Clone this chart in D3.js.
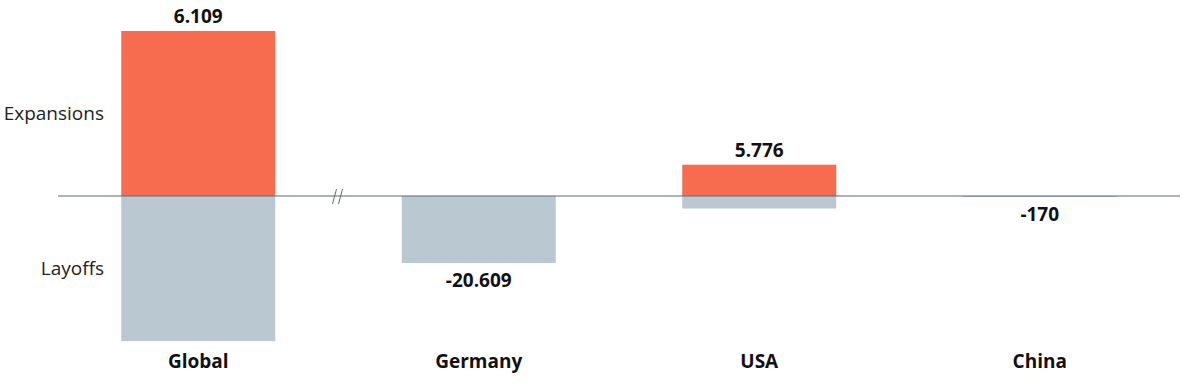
<!DOCTYPE html>
<html>
<head>
<meta charset="utf-8">
<script src="https://cdn.jsdelivr.net/npm/d3@7"></script>
<style>
  body { margin: 0; background: #fff; }
  svg { display: block; font-family: "Open Sans", "Noto Sans", sans-serif; }
</style>
</head>
<body>
<svg id="chart" width="1188" height="389"></svg>
<script>
// data (thousands separated with "." as in the original)
const categories = ["Global", "Germany", "USA", "China"];
const expansions = [50770, 0, 9630, 0];
const layoffs = [44661, 20609, 3854, 170];
const netValues = [6109, -20609, 5776, -170];
const rowLabels = ["Expansions", "Layoffs"];

const baseY = 196;
const barW = 154;
const orange = "#f76b4e";
const grey = "#bac8d1";
const axisColor = "#5b6b77";

const svg = d3.select("#chart");

const x = d3.scaleBand()
    .domain(categories)
    .range([58, 1180])
    .paddingInner(0.45)
    .paddingOuter(0.225);

const y = d3.scaleLinear()
    .domain([-50000, 50000])
    .range([baseY + 162.5, baseY - 162.5]);

const fmt = v => (v < 0 ? "-" : "") + d3.format(",")(Math.abs(v)).replace(/,/g, ".");

const cx = c => x(c) + x.bandwidth() / 2;

const rows = categories.map((c, i) => ({ cat: c, exp: expansions[i], lay: layoffs[i], net: netValues[i] }));

// layoff bars (below the line)
svg.append("g").selectAll("rect")
    .data(rows)
    .join("rect")
    .attr("x", d => cx(d.cat) - barW / 2)
    .attr("width", barW)
    .attr("y", y(0))
    .attr("height", d => Math.max(1, y(-d.lay) - y(0)))
    .attr("fill", grey);

// expansion bars (above the line)
svg.append("g").selectAll("rect")
    .data(rows.filter(d => d.exp > 0))
    .join("rect")
    .attr("x", d => cx(d.cat) - barW / 2)
    .attr("width", barW)
    .attr("y", d => y(d.exp))
    .attr("height", d => y(0) - y(d.exp))
    .attr("fill", orange);

// baseline
svg.append("line")
    .attr("x1", 58).attr("x2", 1180)
    .attr("y1", y(0)).attr("y2", y(0))
    .attr("stroke", axisColor)
    .attr("stroke-width", 1.2);

// axis break between Global and the countries
const brk = (cx(categories[0]) + cx(categories[1])) / 2;
[-3, 3].forEach(o => {
    svg.append("line")
        .attr("x1", brk + o - 3).attr("y1", y(0) + 8)
        .attr("x2", brk + o + 1).attr("y2", y(0) - 7)
        .attr("stroke", axisColor)
        .attr("stroke-width", 1);
});

// value labels
svg.append("g").selectAll("text")
    .data(rows)
    .join("text")
    .attr("x", d => cx(d.cat))
    .attr("y", d => d.net >= 0 ? y(d.exp) - 8 : y(-d.lay) + 24)
    .attr("text-anchor", "middle")
    .attr("font-size", 19)
    .attr("font-weight", "bold")
    .attr("fill", "#111")
    .text(d => fmt(d.net));

// category labels
svg.append("g").selectAll("text")
    .data(categories)
    .join("text")
    .attr("x", d => cx(d))
    .attr("y", 368)
    .attr("text-anchor", "middle")
    .attr("font-size", 19)
    .attr("font-weight", "bold")
    .attr("fill", "#111")
    .text(d => d);

// row labels on the left
svg.append("g").selectAll("text")
    .data(rowLabels)
    .join("text")
    .attr("x", 104)
    .attr("y", (d, i) => i === 0 ? 120 : 275)
    .attr("text-anchor", "end")
    .attr("font-size", 19)
    .attr("fill", "#222")
    .text(d => d);
</script>
</body>
</html>
